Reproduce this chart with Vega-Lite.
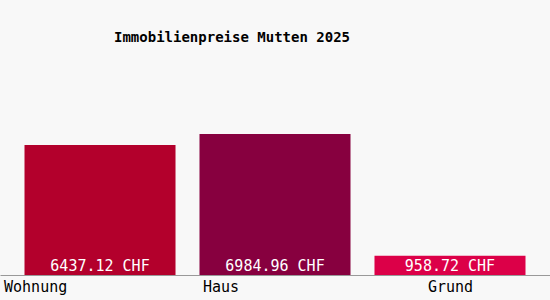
{
  "$schema": "https://vega.github.io/schema/vega-lite/v6.json",
  "width": 550,
  "height": 225,
  "autosize": "none",
  "padding": {"top": 50, "left": 0, "right": 0, "bottom": 25},
  "background": "#f8f8f8",
  "title": {
    "text": "Immobilienpreise Mutten 2025",
    "anchor": "start",
    "frame": "group",
    "dx": 114,
    "offset": 5,
    "font": "DejaVu Sans Mono",
    "fontSize": 14,
    "fontWeight": "bold",
    "color": "#000000"
  },
  "data": {
    "values": [
      {"typ": "Wohnung", "preis": 6437.12, "label": "6437.12 CHF", "farbe": "Wohnung"},
      {"typ": "Haus", "preis": 6984.96, "label": "6984.96 CHF", "farbe": "Haus"},
      {"typ": "Grund", "preis": 958.72, "label": "958.72 CHF", "farbe": "Grund"}
    ]
  },
  "encoding": {
    "x": {
      "field": "typ",
      "type": "nominal",
      "sort": null,
      "scale": {"paddingInner": 0.137, "paddingOuter": 0.14},
      "axis": {
        "title": null,
        "ticks": false,
        "labelAngle": 0,
        "labelFont": "DejaVu Sans Mono",
        "labelFontSize": 15,
        "labelColor": "#000000",
        "labelAlign": "left",
        "labelBaseline": "top",
        "labelPadding": 4,
        "labelOffset": {"expr": "datum.value == 'Wohnung' ? -96 : datum.value == 'Haus' ? -72 : -22"},
        "domainColor": "#999999",
        "domainWidth": 1
      }
    }
  },
  "layer": [
    {
      "mark": {"type": "bar"},
      "encoding": {
        "y": {"field": "preis", "type": "quantitative", "scale": {"domain": [0, 11144], "nice": false}, "axis": null},
        "color": {
          "field": "farbe",
          "type": "nominal",
          "scale": {"domain": ["Wohnung", "Haus", "Grund"], "range": ["#b3002c", "#87003f", "#dc0048"]},
          "legend": null
        }
      }
    },
    {
      "mark": {"type": "text", "color": "#ffffff", "font": "DejaVu Sans Mono", "fontSize": 15, "baseline": "bottom", "dy": -1},
      "encoding": {
        "y": {"datum": 0, "type": "quantitative", "scale": {"domain": [0, 11144], "nice": false}},
        "text": {"field": "label"}
      }
    }
  ],
  "config": {"view": {"stroke": null}}
}
